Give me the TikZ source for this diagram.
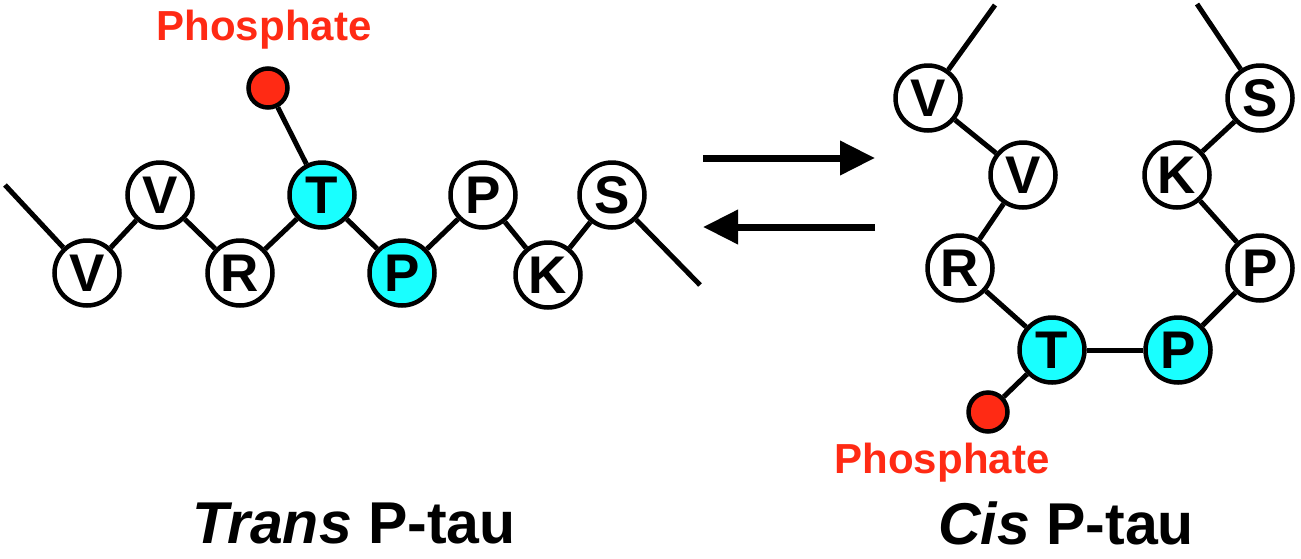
\documentclass[tikz,border=0pt]{standalone}
\usepackage{fontspec}
\setmainfont{Liberation Sans}
\usetikzlibrary{arrows.meta}
\definecolor{hotcyan}{HTML}{19FFFF}
\definecolor{phred}{HTML}{FF2A14}

\begin{document}
\begin{tikzpicture}[
  x=1pt, y=-1pt,
  res/.style={circle, draw=black, line width=4.5pt, fill=white, minimum size=65pt, inner sep=0pt, font=\fontsize{53}{53}\selectfont\bfseries},
  hot/.style={res, fill=hotcyan},
  phos/.style={circle, draw=black, line width=4.5pt, fill=phred, minimum size=39pt, inner sep=0pt},
  bond/.style={line width=5pt},
  eqarr/.style={line width=7pt, -{Triangle[length=35pt,width=33pt]}},
  phlabel/.style={text=phred, font=\fontsize{42}{42}\selectfont\bfseries},
  title/.style={inner sep=0pt, font=\fontsize{59}{59}\selectfont\bfseries},
]
\useasboundingbox (0,0) rectangle (1301,558);
% trans form (left): zig-zag chain
\node[res] (tV1) at (87,273) {V};
\node[res] (tV2) at (160,195) {V};
\node[res] (tR) at (240,273) {R};
\node[hot] (tT) at (322,195) {T};
\node[hot] (tP1) at (402,273) {P};
\node[res] (tP2) at (483,195) {P};
\node[res] (tK) at (548,275) {K};
\node[res] (tS) at (612,195) {S};
\coordinate (tin) at (5,185);
\coordinate (tout) at (700,285);
\foreach \a/\b in {tin/tV1, tV1/tV2, tV2/tR, tR/tT, tT/tP1, tP1/tP2, tP2/tK, tK/tS, tS/tout}
  \draw[bond] (\a) -- (\b);
\node[phos] (tPh) at (268,88) {};
\draw[bond] (tT) -- (tPh);
\node[phlabel] (tPhL) at (264,30) {Phosphate};
\node[title] (tName) at (354,523) {\itshape Trans\/\upshape{} P-tau};
% equilibrium arrows
\coordinate (fwA) at (703,158);
\coordinate (fwB) at (875,158);
\coordinate (bwA) at (875,227);
\coordinate (bwB) at (703,227);
\draw[eqarr] (fwA) -- (fwB);
\draw[eqarr] (bwA) -- (bwB);
% cis form (right): turned chain
\node[res] (cV1) at (928,98) {V};
\node[res] (cV2) at (1023,175) {V};
\node[res] (cR) at (960,268) {R};
\node[hot] (cT) at (1052,350) {T};
\node[hot] (cP1) at (1178,350) {P};
\node[res] (cP2) at (1260,268) {P};
\node[res] (cK) at (1177,175) {K};
\node[res] (cS) at (1260,98) {S};
\coordinate (cin) at (995,5);
\coordinate (cout) at (1197,4);
\foreach \a/\b in {cin/cV1, cV1/cV2, cV2/cR, cR/cT, cT/cP1, cP1/cP2, cP2/cK, cK/cS, cS/cout}
  \draw[bond] (\a) -- (\b);
\node[phos] (cPh) at (988,412) {};
\draw[bond] (cT) -- (cPh);
\node[phlabel] (cPhL) at (942,463) {Phosphate};
\node[title] (cName) at (1066,523) {\itshape Cis\/\upshape{} P-tau};
\end{tikzpicture}
\end{document}
